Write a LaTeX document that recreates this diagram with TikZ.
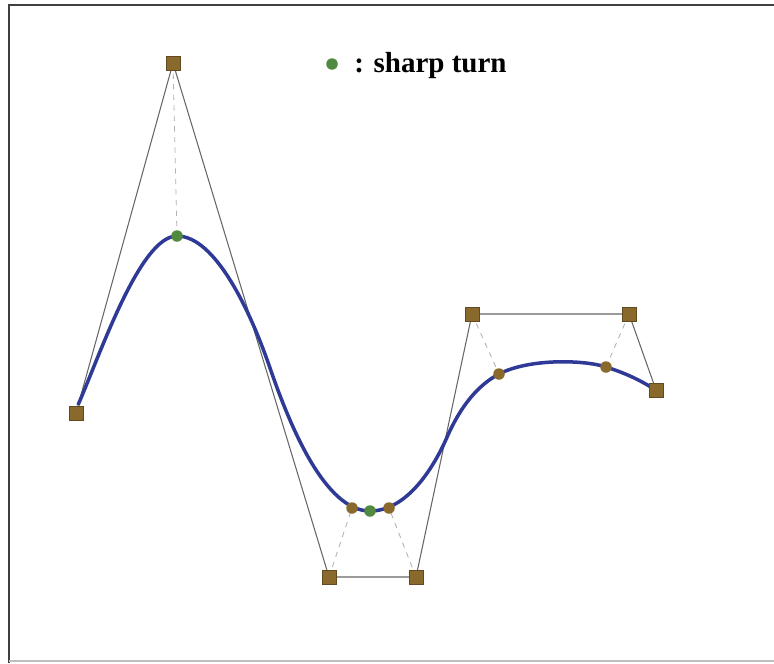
\documentclass[tikz,border=0pt]{standalone}
\usepackage{fontspec}
\setmainfont{Liberation Serif}
\usepackage{tikz}
\usetikzlibrary{positioning}
\definecolor{ctrlbrown}{HTML}{8A6A2C}
\definecolor{turngreen}{HTML}{4F8A3F}
\definecolor{splineblue}{HTML}{2E3A96}

\begin{document}
\begin{tikzpicture}[
  x=0.02cm, y=-0.02cm,
  ctrlpt/.style = {rectangle, fill=ctrlbrown, draw=ctrlbrown!70!black, line width=0.3pt,
                   minimum size=0.28cm, inner sep=0},
  knotpt/.style = {circle, fill=ctrlbrown, minimum size=0.23cm, inner sep=0},
  turnpt/.style = {circle, fill=turngreen, minimum size=0.23cm, inner sep=0},
  poly/.style   = {black!60, line width=0.6pt},
  guide/.style  = {gray!60, dashed, line width=0.5pt},
  spline/.style = {splineblue, line width=2pt},
  frame/.style  = {black!75, line width=1.5pt},
]
\useasboundingbox (0,0) rectangle (774,663);

% Frame
\draw[frame] (9,663) -- (9,5) -- (774,5);
\draw[black!25, line width=1pt] (9,661) -- (774,661);

% Positions
\coordinate (c0) at (76,413);
\coordinate (c1) at (173,63);
\coordinate (c2) at (329,577);
\coordinate (c3) at (416,577);
\coordinate (c4) at (472,314);
\coordinate (c5) at (629,314);
\coordinate (c6) at (656,390);
\coordinate (t1) at (177,236);
\coordinate (t2) at (370,511);
\coordinate (k1) at (352,508);
\coordinate (k2) at (389,508);
\coordinate (k3) at (499,374);
\coordinate (k4) at (606,367);

% Control polygon
\draw[poly] (c0) -- (c1) -- (c2) -- (c3) -- (c4) -- (c5) -- (c6);
\draw[guide] (c1) -- (t1);
\draw[guide] (c2) -- (k1);
\draw[guide] (c3) -- (k2);
\draw[guide] (c4) -- (k3);
\draw[guide] (c5) -- (k4);

% Curve
\draw[spline] (78,405) .. controls (100,355) and (140,236) .. (t1)
  .. controls (215,236) and (250,310) .. (270,368)
  .. controls (290,426) and (325,511) .. (t2)
  .. controls (405,511) and (432,472) .. (448,435)
  .. controls (461,406) and (478,385) .. (k3)
  .. controls (530,358) and (585,360) .. (k4)
  .. controls (625,373) and (640,380) .. (654,389);

% Points
\foreach \p in {c0,c1,c2,c3,c4,c5,c6}
  \node[ctrlpt] (n\p) at (\p) {};
\foreach \p in {k1,k2,k3,k4}
  \node[knotpt] (n\p) at (\p) {};
\foreach \p in {t1,t2}
  \node[turnpt] (n\p) at (\p) {};

% Legend
\node[turnpt] (legdot) at (332,64) {};
\node[anchor=base west, inner sep=0, font=\fontsize{16.5}{18}\selectfont\bfseries]
  (legtext) at (354,72) {: sharp turn};
\end{tikzpicture}
\end{document}
